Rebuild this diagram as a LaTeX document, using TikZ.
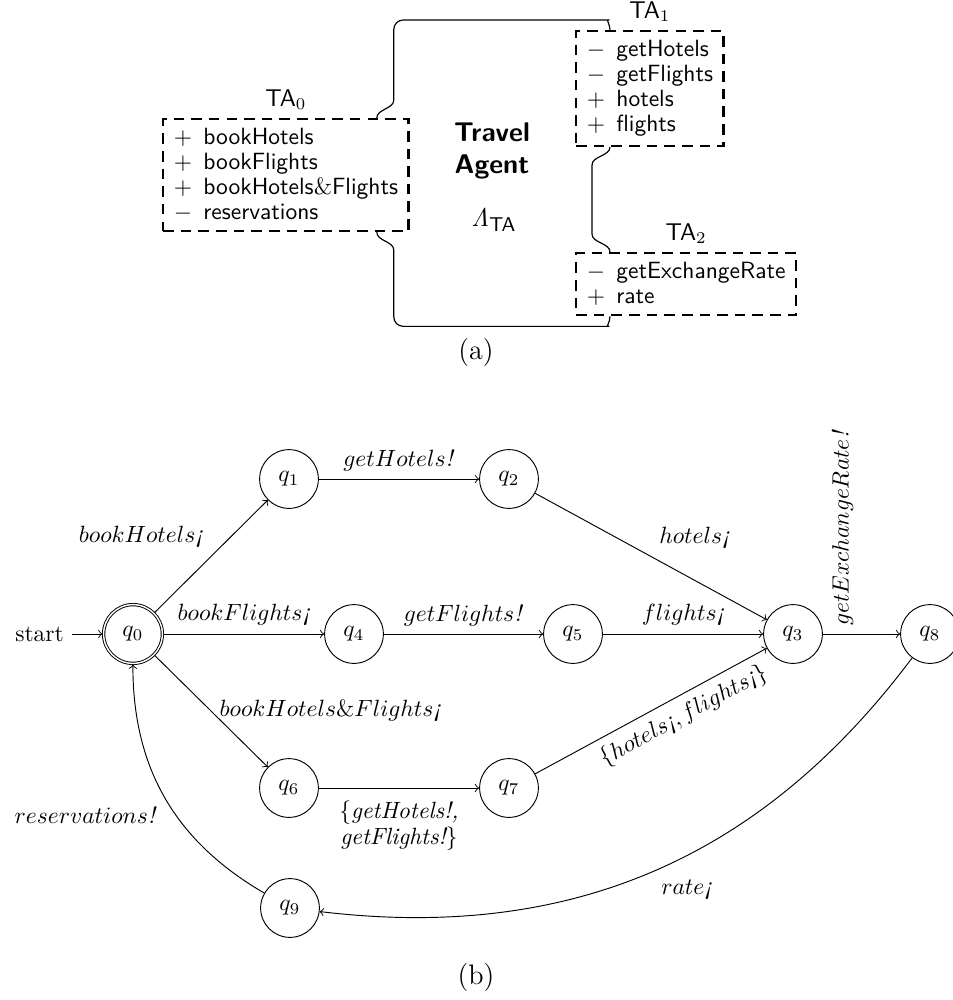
\documentclass[tikz,border=0pt]{standalone}
\usetikzlibrary{automata,calc}
\newcommand{\plusitem}{$+$\hspace{1.5pt} }
\newcommand{\minusitem}{$-$\hspace{1.5pt} }
\begin{document}
\begin{tikzpicture}[x=0.4255pt,y=-0.4255pt,
  iface/.style={draw, line width=1pt, dash pattern=on 4.5pt off 3pt,
    align=left, inner xsep=4.5pt, inner ysep=4pt, anchor=north west,
    font=\sffamily\fontsize{10}{10.6}\selectfont},
  tag/.style={font=\sffamily\fontsize{10.3}{12}\selectfont},
  conn/.style={line width=0.5pt},
  st/.style={state, minimum size=25pt, inner sep=1pt},
  tr/.style={->},
  caption/.style={font=\large}]
\useasboundingbox (0,0) rectangle (953,1000);

% ---------- (a) interfaces of the travel agent ----------
\node[iface, label={[tag]above:TA$_0$}] (ta0) at (162,118)
  {\plusitem bookHotels\\ \plusitem bookFlights\\ \plusitem bookHotels{\rmfamily\&}Flights\\ \minusitem reservations};
\node[iface, label={[tag]above:TA$_1$}] (ta1) at (575,30)
  {\minusitem getHotels\\ \minusitem getFlights\\ \plusitem hotels\\ \plusitem flights};
\node[iface, label={[tag]above:TA$_2$}] (ta2) at (575,252)
  {\minusitem getExchangeRate\\ \plusitem rate};

\node[align=center, font=\sffamily\bfseries\fontsize{11.5}{13.6}\selectfont] (name) at (492,151) {Travel\\Agent};
\node[font=\fontsize{11}{13}\selectfont] (lam) at (494,220) {$\mathit{\Lambda}_{\mbox{\sffamily\fontsize{8.5}{9}\selectfont TA}}$};

% connectors between the interfaces
\draw[conn] ($(ta0.north east)+(-33,0)$) .. controls +(0,-9) and +(0,9) .. ++(17,-18)
  [rounded corners=4pt] |- ($(ta1.north west)+(24,-10)$) [sharp corners]
  .. controls +(7,0) and +(0,-6) .. ($(ta1.north west)+(35,0)$);
\draw[conn] ($(ta0.south east)+(-33,0)$) .. controls +(0,9) and +(0,-9) .. ++(17,18)
  [rounded corners=4pt] |- ($(ta2.south west)+(24,10)$) [sharp corners]
  .. controls +(7,0) and +(0,6) .. ($(ta2.south west)+(35,0)$);
\draw[conn] ($(ta1.south west)+(35,0)$) .. controls +(0,9) and +(0,-9) .. ++(-18,18)
  -- ($(ta2.north west)+(17,-18)$)
  .. controls +(0,9) and +(0,-9) .. ($(ta2.north west)+(35,0)$);

\node[caption] (capa) at (476,352) {(a)};

% ---------- (b) protocol automaton ----------
\node[st, initial, initial text=start, accepting] (q0) at (133,634) {$q_0$};
\node[st] (q1) at (289,479) {$q_1$};
\node[st] (q2) at (509,479) {$q_2$};
\node[st] (q4) at (354,634) {$q_4$};
\node[st] (q5) at (573,634) {$q_5$};
\node[st] (q3) at (793,634) {$q_3$};
\node[st] (q8) at (930,634) {$q_8$};
\node[st] (q6) at (289,788) {$q_6$};
\node[st] (q7) at (509,788) {$q_7$};
\node[st] (q9) at (290,908) {$q_9$};

\draw[tr] (q0) -- node[auto] {$bookHotels$\textit{¡}} (q1);
\draw[tr] (q1) -- node[auto] {$getHotels$\textit{!}} (q2);
\draw[tr] (q2) -- node[auto] {$hotels$\textit{¡}} (q3);
\draw[tr] (q0) -- node[auto] {$bookFlights$\textit{¡}} (q4);
\draw[tr] (q4) -- node[auto] {$getFlights$\textit{!}} (q5);
\draw[tr] (q5) -- node[auto] {$flights$\textit{¡}} (q3);
\draw[tr] (q0) -- node[anchor=west] {$bookHotels\&Flights$\textit{¡}} (q6);
\draw[tr] (q6) -- node[below, align=center, yshift=-2pt, font=\itshape\fontsize{10}{9.6}\selectfont]
  {$\{$getHotels!,\\getFlights!$\}$} (q7);
\draw[tr] (q7) -- node[below, sloped, pos=0.6] {$\{hotels$\textit{¡}$, flights$\textit{¡}$\}$} (q3);
\draw[tr] (q3) -- node[rotate=90, anchor=south west] {$getExchangeRate$\textit{!}} (q8);
\draw[tr] (q8) to[bend left=30] node[auto] {$rate$\textit{¡}} (q9);
\draw[tr] (q9) to[bend left=30] node[auto] {$reservations$\textit{!}} (q0);

\node[caption] (capb) at (476,977) {(b)};
\end{tikzpicture}
\end{document}
